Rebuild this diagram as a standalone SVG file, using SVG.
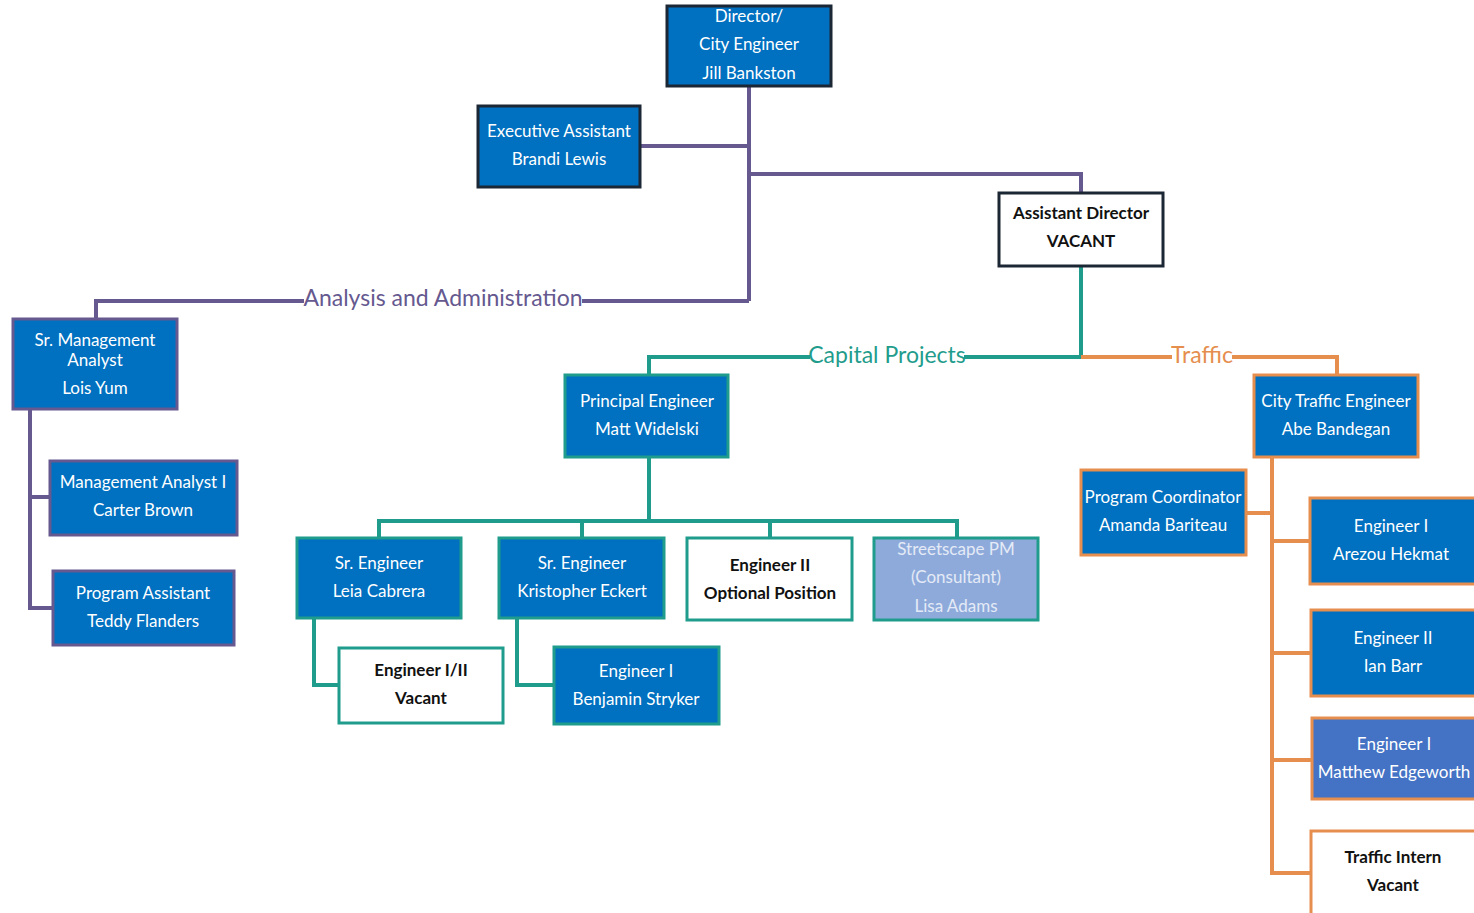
<svg xmlns="http://www.w3.org/2000/svg" width="1474" height="913" viewBox="0 0 1474 913">
<style>
text{font-family:Lato,"Liberation Sans",sans-serif;font-size:17px;text-anchor:middle;dominant-baseline:central}
.w{fill:#ffffff}
.b{fill:#111111;font-weight:bold}
.lt{fill:#e4eaf6}
.box{fill:#0070c0;stroke-width:3}
.wbox{fill:#ffffff;stroke-width:3}
.dk{stroke:#1c2735}
.pu{stroke:#65598f}
.te{stroke:#1f9c8c}
.or{stroke:#e58e4e}
.c{fill:none;stroke-width:4}
.lab{font-size:23px}
</style>
<g id="connectors">
<path class="c pu" d="M749 86V301M640 146H749M749 174H1081V193M749 301H96V320M30 409V608H53M30 497H50"/>
<path class="c te" d="M1081 266V357H649V375M649 457V521M379 538V521H957V538M582 521V538M770 521V538M314 618V685H339M517 618V685H554"/>
<path class="c or" d="M1081 357H1337V375M1272 457V873H1311M1246 513H1272M1272 541H1310M1272 653H1311M1272 760H1312"/>
<rect x="304" y="287" width="278" height="24" fill="#fff"/>
<text class="lab" x="443" y="297" fill="#65598f">Analysis and Administration</text>
<rect x="810" y="344" width="154" height="24" fill="#fff"/>
<text class="lab" x="887" y="354" fill="#1f9c8c">Capital Projects</text>
<rect x="1172" y="344" width="60" height="24" fill="#fff"/>
<text class="lab" x="1202" y="354" fill="#e58e4e">Traffic</text>
</g>
<g id="director">
<rect class="box dk" x="667" y="6" width="164" height="80"/>
<text class="w" x="749" y="15">Director/</text>
<text class="w" x="749" y="43">City Engineer</text>
<text class="w" x="749" y="72">Jill Bankston</text>
</g>
<g id="exec-assistant">
<rect class="box dk" x="478" y="106" width="162" height="81"/>
<text class="w" x="559" y="130">Executive Assistant</text>
<text class="w" x="559" y="158">Brandi Lewis</text>
</g>
<g id="assistant-director">
<rect class="wbox dk" x="999" y="193" width="164" height="73"/>
<text class="b" x="1081" y="212">Assistant Director</text>
<text class="b" x="1081" y="240">VACANT</text>
</g>
<g id="sr-mgmt-analyst">
<rect class="box pu" x="13" y="319" width="164" height="90"/>
<text class="w" x="95" y="339">Sr. Management</text>
<text class="w" x="95" y="359">Analyst</text>
<text class="w" x="95" y="387">Lois Yum</text>
</g>
<g id="mgmt-analyst">
<rect class="box pu" x="50" y="461" width="187" height="74"/>
<text class="w" x="143" y="481">Management Analyst I</text>
<text class="w" x="143" y="509">Carter Brown</text>
</g>
<g id="program-assistant">
<rect class="box pu" x="53" y="571" width="181" height="74"/>
<text class="w" x="143" y="592">Program Assistant</text>
<text class="w" x="143" y="620">Teddy Flanders</text>
</g>
<g id="principal-engineer">
<rect class="box te" x="565" y="375" width="163" height="82"/>
<text class="w" x="647" y="400">Principal Engineer</text>
<text class="w" x="647" y="428">Matt Widelski</text>
</g>
<g id="sr-engineer-leia">
<rect class="box te" x="297" y="538" width="164" height="80"/>
<text class="w" x="379" y="562">Sr. Engineer</text>
<text class="w" x="379" y="590">Leia Cabrera</text>
</g>
<g id="sr-engineer-kristopher">
<rect class="box te" x="499" y="538" width="165" height="80"/>
<text class="w" x="582" y="562">Sr. Engineer</text>
<text class="w" x="582" y="590">Kristopher Eckert</text>
</g>
<g id="engineer-ii-optional">
<rect class="wbox te" x="687" y="538" width="165" height="82"/>
<text class="b" x="770" y="564">Engineer II</text>
<text class="b" x="770" y="592">Optional Position</text>
</g>
<g id="streetscape-pm">
<rect class="wbox te" x="874" y="538" width="164" height="82" style="fill:#8eaadb"/>
<text class="lt" x="956" y="548">Streetscape PM</text>
<text class="lt" x="956" y="576">(Consultant)</text>
<text class="lt" x="956" y="605">Lisa Adams</text>
</g>
<g id="engineer-i-ii-vacant">
<rect class="wbox te" x="339" y="648" width="164" height="75"/>
<text class="b" x="421" y="669">Engineer I/II</text>
<text class="b" x="421" y="697">Vacant</text>
</g>
<g id="engineer-i-benjamin">
<rect class="box te" x="554" y="647" width="165" height="77"/>
<text class="w" x="636" y="670">Engineer I</text>
<text class="w" x="636" y="698">Benjamin Stryker</text>
</g>
<g id="city-traffic-engineer">
<rect class="box or" x="1254" y="375" width="164" height="82"/>
<text class="w" x="1336" y="400">City Traffic Engineer</text>
<text class="w" x="1336" y="428">Abe Bandegan</text>
</g>
<g id="program-coordinator">
<rect class="box or" x="1081" y="470" width="165" height="85"/>
<text class="w" x="1163" y="496">Program Coordinator</text>
<text class="w" x="1163" y="524">Amanda Bariteau</text>
</g>
<g id="engineer-i-arezou">
<rect class="box or" x="1310" y="498" width="170" height="86"/>
<text class="w" x="1391" y="525">Engineer I</text>
<text class="w" x="1391" y="553">Arezou Hekmat</text>
</g>
<g id="engineer-ii-ian">
<rect class="box or" x="1311" y="610" width="170" height="86"/>
<text class="w" x="1393" y="637">Engineer II</text>
<text class="w" x="1393" y="665">Ian Barr</text>
</g>
<g id="engineer-i-matthew">
<rect class="box or" x="1312" y="718" width="170" height="81" style="fill:#4472c4"/>
<text class="w" x="1394" y="743">Engineer I</text>
<text class="w" x="1394" y="771">Matthew Edgeworth</text>
</g>
<g id="traffic-intern">
<rect class="wbox or" x="1311" y="831" width="170" height="90"/>
<text class="b" x="1393" y="856">Traffic Intern</text>
<text class="b" x="1393" y="884">Vacant</text>
</g>
</svg>
